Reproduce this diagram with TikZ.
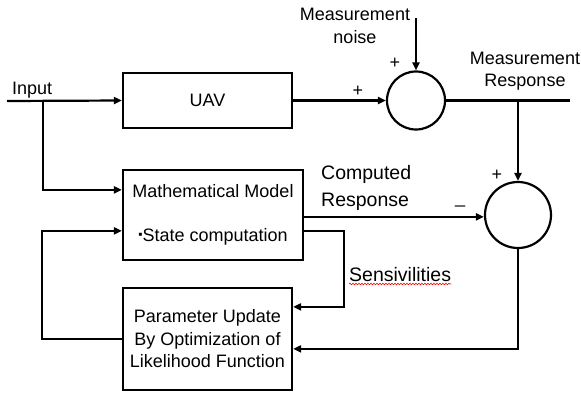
\documentclass[tikz,border=0pt]{standalone}
\usepackage{fontspec}
\setmainfont{Liberation Sans}
\usetikzlibrary{arrows.meta,decorations.pathmorphing}
\begin{document}
\begin{tikzpicture}[x=1pt,y=-1pt,
  every node/.style={font=\fontsize{18}{22.5}\selectfont, inner sep=0pt},
  blockbox/.style={draw, line width=2.2pt, align=center},
  sumnode/.style={draw, circle, line width=2.2pt, minimum size=#1},
  wire/.style={line width=2.2pt},
  arr/.style={wire, -{Triangle[length=8pt,width=7pt]}},
  lbl/.style={align=center},
  biglbl/.style={font=\fontsize{19.5}{27}\selectfont, align=left}]
\useasboundingbox (0,0) rectangle (581,392);

% blocks
\node[blockbox, minimum width=169pt, minimum height=55pt] (uav) at (207.5,100.5) {UAV};
\node[blockbox, minimum width=180pt, minimum height=90pt] (mm) at (213,215)
  {Mathematical Model\\[22pt]\raisebox{3.5pt}{\fontsize{12}{12}\selectfont ▪}State computation};
\node[blockbox, minimum width=169pt, minimum height=102pt] (pu) at (207.5,339)
  {Parameter Update\\By Optimization of\\Likelihood Function};
\node[sumnode=58pt] (s1) at (416,100.5) {};
\node[sumnode=66pt] (s2) at (518,215) {};

% free ends
\coordinate (in) at (7,101);
\coordinate (b1) at (43,101);
\coordinate (noise) at (416,18);
\coordinate (out) at (570,100.5);
\coordinate (b2) at (518,100.5);
\coordinate (mmin1) at ([yshift=-21pt]mm.north west);
\coordinate (mmin2) at ([yshift=-62pt]mm.north west);
\coordinate (mmout1) at ([yshift=-48pt]mm.north east);
\coordinate (mmout2) at ([yshift=-62pt]mm.north east);
\coordinate (puin1) at ([yshift=-20pt]pu.north east);
\coordinate (puin2) at ([yshift=-62pt]pu.north east);

% connectors
\draw[arr] (in) -- (uav.west);
\draw[arr] (b1) |- (mmin1);
\draw[arr] (pu.west) -- ++(-80,0) |- (mmin2);
\draw[arr] (uav.east) -- (s1.west);
\draw[arr] (noise) -- (s1.north);
\draw[wire] (s1.east) -- (out);
\draw[arr] (b2) -- (s2.north);
\draw[arr] (mmout1) -- (s2.west |- mmout1);
\draw[arr] (mmout2) -- ++(40,0) |- (puin1);
\draw[arr] (s2.south) |- (puin2);

% labels
\node[anchor=base west] (tin) at (12,94) {Input};
\node[lbl] (tnoise) at (355,26) {Measurement\\noise};
\node (p1) at (395,63) {+};
\node (p2) at (358,91) {+};
\node[lbl] (tmeas) at (525,71) {Measurement\\Response};
\node (p3) at (497,175) {+};
\node[biglbl, anchor=west] (tcomp) at (321,188) {Computed\\Response};
\node (m1) at (460,205) {\_};
\node[anchor=base west, font=\fontsize{19.5}{24}\selectfont] (tsens) at (349,281) {Sensivilities};
\draw[red, line width=0.6pt, decorate, decoration={snake, amplitude=0.8pt, segment length=3pt}]
  ([yshift=-3pt]tsens.base west) -- ([yshift=-3pt]tsens.base east);
\end{tikzpicture}
\end{document}
